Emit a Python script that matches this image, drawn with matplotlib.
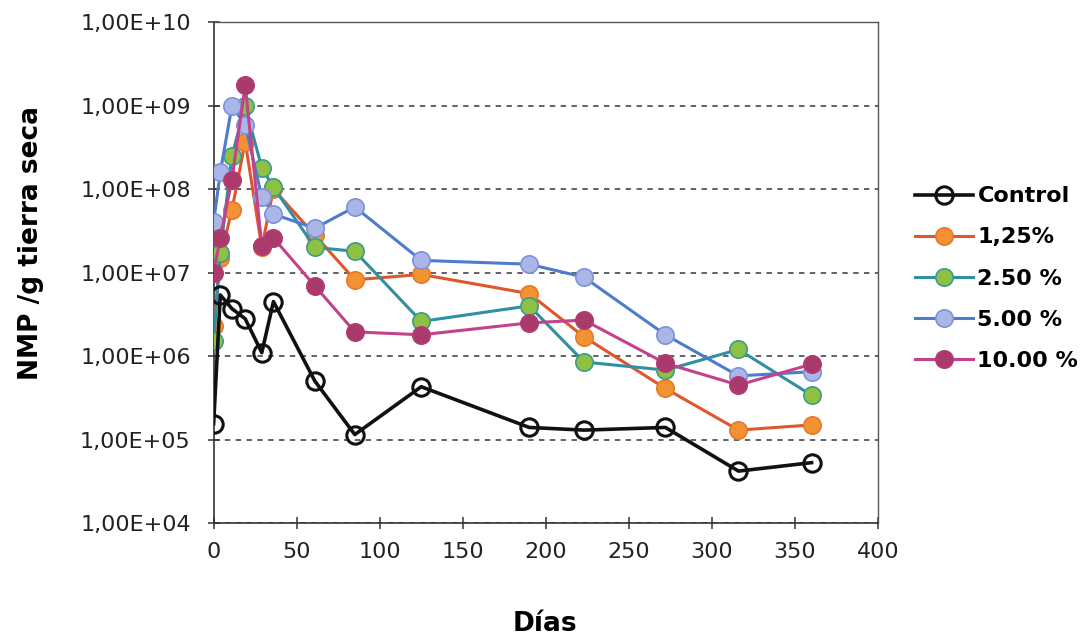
import matplotlib
matplotlib.use("Agg")
import matplotlib.pyplot as plt
from matplotlib.ticker import FixedLocator, NullLocator

# dias de muestreo y recuentos NMP por gramo de tierra seca
dias = [0, 4, 11, 19, 29, 36, 61, 85, 125, 190, 223, 272, 316, 360]

control = [1.55e5, 5.4e6, 3.7e6, 2.8e6, 1.1e6, 4.5e6, 5.0e5, 1.15e5,
           4.3e5, 1.4e5, 1.3e5, 1.4e5, 4.2e4, 5.3e4]
dosis_125 = [2.3e6, 1.5e7, 5.6e7, 3.7e8, 2.0e7, 1.0e8, 2.8e7, 8.2e6,
             9.5e6, 5.6e6, 1.7e6, 4.1e5, 1.3e5, 1.5e5]
dosis_250 = [1.5e6, 1.7e7, 2.5e8, 9.8e8, 1.8e8, 1.05e8, 2.0e7, 1.8e7,
             2.6e6, 4.0e6, 8.5e5, 6.8e5, 1.2e6, 3.4e5]
dosis_500 = [4.0e7, 1.6e8, 9.8e8, 5.9e8, 8.0e7, 5.0e7, 3.4e7, 6.1e7,
             1.4e7, 1.26e7, 8.8e6, 1.8e6, 5.8e5, 6.5e5]
dosis_1000 = [1.0e7, 2.6e7, 1.3e8, 1.75e9, 2.1e7, 2.6e7, 6.9e6, 1.95e6,
              1.8e6, 2.5e6, 2.7e6, 8.2e5, 4.5e5, 8.0e5]

etiquetas = ["Control", "1,25%", "2.50 %", "5.00 %", "10.00 %"]
y_ticks = [1e4, 1e5, 1e6, 1e7, 1e8, 1e9, 1e10]
y_labels = ["1,00E+04", "1,00E+05", "1,00E+06", "1,00E+07",
            "1,00E+08", "1,00E+09", "1,00E+10"]
x_ticks = [0, 50, 100, 150, 200, 250, 300, 350, 400]

# estilo de cada serie: color de linea, relleno y borde del marcador
estilos = [
    ("#111111", "none", "#111111"),
    ("#E0562C", "#F39233", "#E57A2A"),
    ("#2F8FA3", "#8DC043", "#3E9C8F"),
    ("#4C7CCB", "#AAB6E8", "#7F92DA"),
    ("#C2428C", "#A93A6B", "#B03D74"),
]
series = [control, dosis_125, dosis_250, dosis_500, dosis_1000]

plt.rcParams['font.family'] = ['DejaVu Sans']

fig = plt.figure(figsize=(10.9, 6.38), dpi=100)
ax = fig.add_axes([0.196, 0.180, 0.6095, 0.7855])

for valores, nombre, (c_linea, c_relleno, c_borde) in zip(series, etiquetas, estilos):
    if nombre == "Control":
        ax.plot(dias, valores, color=c_linea, lw=2.6, marker="o", ms=12.5,
                mfc="none", mec=c_borde, mew=2.2, label=nombre, zorder=5)
    else:
        ax.plot(dias, valores, color=c_linea, lw=2.2, marker="o", ms=12.5,
                mfc=c_relleno, mec=c_borde, mew=1.2, label=nombre, zorder=3)

ax.set_yscale("log")
ax.set_ylim(1e4, 1e10)
ax.set_xlim(0, 400)
ax.yaxis.set_major_locator(FixedLocator(y_ticks))
ax.set_yticklabels(y_labels)
ax.yaxis.set_minor_locator(NullLocator())
ax.set_xticks(x_ticks)

ax.grid(axis="y", which="major", linestyle=(0, (3, 3)), color="#555555", lw=1.3)
ax.set_axisbelow(True)

for lado in ["left", "bottom"]:
    ax.spines[lado].set_color("#333333")
    ax.spines[lado].set_linewidth(1.2)
for lado in ["top", "right"]:
    ax.spines[lado].set_color("#555555")
    ax.spines[lado].set_linewidth(1.0)

ax.tick_params(axis="both", direction="inout", length=9, width=1.1,
               color="#333333", labelsize=16, labelcolor="#222222")
ax.tick_params(axis="y", pad=12)
ax.tick_params(axis="x", pad=9)

ax.set_ylabel("NMP /g tierra seca", fontsize=19, fontweight="bold")
ax.yaxis.set_label_coords(-0.256, 0.56)
ax.set_xlabel("Días", fontsize=19, fontweight="bold")
ax.xaxis.set_label_coords(0.498, -0.175)

ax.legend(loc="upper left", bbox_to_anchor=(1.056, 0.672), frameon=False,
          prop={"weight": "bold", "size": 16}, handlelength=2.6,
          handletextpad=0.2, labelspacing=0.95, borderaxespad=0,
          borderpad=0)

fig.savefig("out.png", dpi=100, facecolor="white")
